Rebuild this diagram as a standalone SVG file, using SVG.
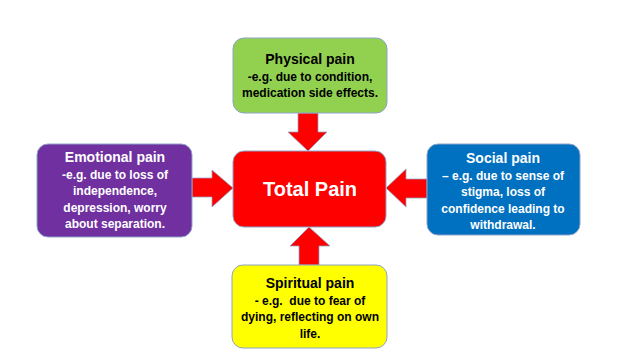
<svg xmlns="http://www.w3.org/2000/svg" width="640" height="360" viewBox="0 0 640 360">
<style>
.box{stroke:#8EA3C8;stroke-width:1}
.arrow{fill:#FF0000;stroke:#8EA3C8;stroke-width:0.75}
text{font-family:"Liberation Sans",Arial,sans-serif;font-weight:bold;text-anchor:middle}
.t{font-size:14px}
.b{font-size:12px}
.w{fill:#FFFFFF}
.k{fill:#000000}
</style>
<rect width="640" height="360" fill="#FFFFFF"/>
<g id="connectors">
<polygon class="arrow" points="298,113 318,113 318,132 327,132 308,151 288,132 298,132"/>
<polygon class="arrow" points="192,178 212,178 212,170 233,188 212,207 212,197 192,197"/>
<polygon class="arrow" points="427,179 406,179 406,169 386,188 406,207 406,198 427,198"/>
<polygon class="arrow" points="299,265 319,265 319,246 330,246 309,227 290,246 299,246"/>
</g>
<g id="physical">
<rect class="box" x="233" y="38" width="154" height="75" rx="11" fill="#92D050"/>
<text class="t k" x="310" y="64">Physical pain</text>
<text class="b k" x="310" y="81">-e.g. due to condition,</text>
<text class="b k" x="310" y="97">medication side effects.</text>
</g>
<g id="total">
<rect class="box" x="233" y="151" width="153" height="76" rx="11" fill="#FF0000"/>
<text class="w" x="310" y="196" style="font-size:20px">Total Pain</text>
</g>
<g id="emotional">
<rect class="box" x="37" y="144" width="155" height="93" rx="11" fill="#7030A0"/>
<text class="t w" x="115" y="162">Emotional pain</text>
<text class="b w" x="115" y="179">-e.g. due to loss of</text>
<text class="b w" x="115" y="195">independence,</text>
<text class="b w" x="115" y="212">depression, worry</text>
<text class="b w" x="115" y="228">about separation.</text>
</g>
<g id="social">
<rect class="box" x="427" y="144" width="153" height="91" rx="11" fill="#0070C0"/>
<text class="t w" x="503" y="163">Social pain</text>
<text class="b w" x="503" y="180">– e.g. due to sense of</text>
<text class="b w" x="503" y="196">stigma, loss of</text>
<text class="b w" x="503" y="213">confidence leading to</text>
<text class="b w" x="503" y="229">withdrawal.</text>
</g>
<g id="spiritual">
<rect class="box" x="232" y="265" width="155" height="83" rx="11" fill="#FFFF00"/>
<text class="t k" x="310" y="288">Spiritual pain</text>
<text class="b k" x="310" y="305" xml:space="preserve">- e.g.  due to fear of</text>
<text class="b k" x="310" y="321">dying, reflecting on own</text>
<text class="b k" x="310" y="338">life.</text>
</g>
</svg>
